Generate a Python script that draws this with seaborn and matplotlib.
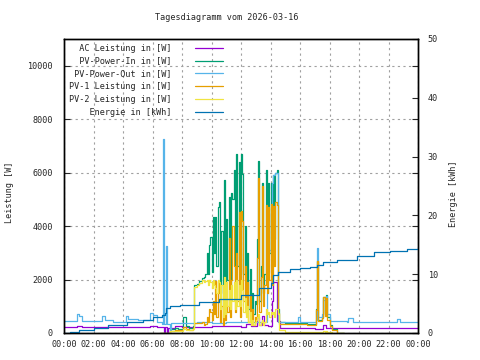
import matplotlib
matplotlib.use('Agg')
import matplotlib.pyplot as plt
import seaborn as sns

# -------------------- Data --------------------
ac_time = ["00:00", "00:52", "01:12", "04:12", "04:20", "05:50", "06:20", "06:45", "06:50", "07:00",
           "07:05", "07:30", "08:00", "10:00", "12:00", "12:20", "12:40", "13:05", "13:15", "13:25",
           "13:35", "13:50", "14:05", "14:10", "14:28", "14:40", "17:00", "17:35", "17:45", "24:00"]
ac_power = [210, 260, 210, 240, 210, 250, 210, 0, 210, 0,
            200, 250, 210, 250, 230, 350, 250, 600, 300, 650,
            300, 250, 1200, 1900, 450, 190, 150, 300, 180, 180]

out_time = ["00:00", "00:52", "01:00", "01:12", "02:35", "02:45", "03:20", "04:12", "04:20", "05:00",
            "05:50", "06:00", "06:18", "06:40", "06:43", "06:47", "06:53", "06:57", "07:10", "07:15",
            "08:00", "09:00", "10:00", "11:00", "12:00", "13:00", "13:45", "13:50", "13:55", "14:00",
            "14:05", "14:10", "14:20", "14:30", "15:50", "16:02", "17:05", "17:10", "17:15", "17:30",
            "17:35", "17:40", "17:45", "17:50", "18:00", "19:10", "19:15", "19:35", "22:35", "22:48",
            "24:00"]
pv_out = [460, 700, 620, 460, 630, 480, 420, 630, 520, 470,
          740, 670, 420, 330, 7270, 330, 3240, 330, 100, 370,
          380, 400, 380, 420, 400, 420, 1500, 2240, 3100, 4500,
          5600, 5900, 6000, 420, 600, 420, 500, 3170, 600, 700,
          1250, 800, 1400, 700, 450, 420, 560, 410, 520, 420,
          400]

pv_time = ["06:30", "07:12", "07:30", "07:45", "08:05", "08:15", "08:30", "08:45", "08:50", "09:00",
           "09:10", "09:20", "09:30", "09:35", "09:40", "09:45", "09:50", "09:55", "10:00", "10:05",
           "10:10", "10:15", "10:20", "10:25", "10:30", "10:35", "10:40", "10:45", "10:50", "10:55",
           "11:00", "11:05", "11:10", "11:15", "11:20", "11:25", "11:30", "11:35", "11:40", "11:45",
           "11:50", "11:55", "12:00", "12:05", "12:10", "12:15", "12:20", "12:25", "12:30", "12:35",
           "12:40", "12:45", "12:50", "12:55", "13:00", "13:05", "13:10", "13:15", "13:20", "13:25",
           "13:30", "13:35", "13:40", "13:45", "13:50", "13:55", "14:00", "14:05", "14:10", "14:15",
           "14:20", "14:25", "14:30", "14:35", "15:00", "15:30", "16:00", "16:30", "17:00", "17:05",
           "17:10", "17:15", "17:30", "17:35", "17:40", "17:45", "17:50", "18:00", "18:10", "18:30",
           "19:00"]
pv_in = [0, 150, 200, 150, 600, 250, 200, 250, 1790, 1850,
         1950, 2050, 2100, 2200, 2990, 2200, 3280, 3580, 2300, 4330,
         3000, 4330, 2500, 4700, 4920, 1500, 3800, 900, 5740, 1200,
         4250, 2000, 5070, 1600, 5220, 5000, 6080, 1800, 6710, 2500,
         6380, 1800, 6680, 5960, 2200, 4000, 1500, 3000, 900, 2400,
         800, 1500, 700, 1200, 1100, 3500, 6450, 1200, 2500, 5600,
         1500, 2200, 6080, 2500, 5600, 3000, 5630, 2800, 5900, 3500,
         6000, 6100, 900, 400, 380, 360, 380, 350, 340, 900,
         2700, 500, 600, 1340, 700, 1420, 600, 300, 150, 0,
         0]
pv1 = [0, 80, 120, 100, 220, 150, 120, 200, 370, 380,
       380, 400, 300, 350, 600, 400, 900, 800, 500, 1200,
       700, 1960, 600, 1960, 1500, 400, 1000, 300, 1800, 500,
       1300, 800, 3540, 600, 2000, 3990, 2500, 800, 3000, 1200,
       4510, 600, 4580, 4200, 1200, 2500, 700, 1900, 400, 1400,
       500, 900, 300, 600, 500, 2800, 5800, 800, 2100, 5500,
       1000, 1800, 4800, 1500, 4700, 2000, 4840, 1800, 4770, 2500,
       4900, 4800, 740, 340, 330, 320, 340, 300, 300, 850,
       2680, 450, 550, 1340, 650, 1300, 500, 250, 100, 0,
       0]
pv2 = [0, 60, 80, 60, 150, 100, 100, 150, 1720, 1780,
       1880, 2000, 1900, 1950, 2000, 1800, 2000, 1900, 1700, 2000,
       1800, 1700, 1500, 2000, 1900, 900, 1800, 600, 2100, 700,
       1900, 1000, 1600, 900, 1800, 1200, 1900, 900, 2000, 1000,
       1800, 1000, 2000, 1600, 800, 1300, 600, 1000, 400, 800,
       300, 500, 300, 400, 500, 600, 700, 300, 400, 500,
       300, 400, 900, 700, 800, 600, 800, 700, 800, 600,
       900, 900, 700, 100, 30, 30, 30, 20, 20, 50,
       50, 30, 40, 60, 40, 60, 30, 20, 10, 0,
       0]

energy_time = ["00:00", "00:25", "01:00", "02:00", "03:00", "04:15", "05:20", "06:00", "06:40", "06:50",
               "06:55", "07:10", "07:50", "09:10", "10:30", "12:00", "13:15", "14:00", "14:10", "14:30",
               "15:20", "16:00", "16:40", "17:10", "17:35", "18:30", "19:50", "21:00", "22:05", "23:15",
               "24:00"]
energy = [0, 0.2, 0.5, 0.9, 1.3, 1.8, 2.2, 2.8, 3.05, 3.4,
          4.25, 4.6, 4.8, 5.3, 5.8, 6.4, 7.6, 8.5, 9.9, 10.4,
          10.8, 11.1, 11.3, 11.6, 12.0, 12.4, 13.1, 13.7, 14.0, 14.3,
          14.7]

hour_ticks = list(range(0, 25, 2))
labels = ['AC Leistung in [W]', 'PV-Power-In in [W]', 'PV-Power-Out in [W]',
          'PV-1 Leistung in [W]', 'PV-2 Leistung in [W]', 'Energie in [kWh]']
colors = ['#9400d3', '#009e73', '#56b4e9', '#e69f00', '#f0e442', '#0072b2']


def to_hours(times):
    return [int(t[:2]) + int(t[3:]) / 60 for t in times]


sns.set_style('white')
plt.rcParams['font.family'] = ['DejaVu Sans Mono']
FS = 6.1

fig = plt.figure(figsize=(4.8, 3.6), dpi=100)
ax = fig.add_axes([64 / 480, 27 / 360, 354 / 480, 294 / 360])

power = [(ac_time, ac_power), (pv_time, pv_in), (out_time, pv_out), (pv_time, pv1), (pv_time, pv2)]
for (t, v), c in zip(power, colors[:5]):
    sns.lineplot(x=to_hours(t), y=v, ax=ax, color=c, lw=0.9, drawstyle='steps-post', legend=False)

ax2 = ax.twinx()
sns.lineplot(x=to_hours(energy_time), y=energy, ax=ax2, color=colors[5], lw=0.9,
             drawstyle='steps-post', legend=False)

ax.set_xlim(0, 24)
ax.set_ylim(0, 11000)
ax2.set_ylim(0, 50)
ax.set_xticks(hour_ticks)
ax.set_xticklabels([f'{h % 24:02d}:00' for h in hour_ticks])
ax.set_xticks(range(0, 25), minor=True)
ax.set_yticks(range(0, 10001, 2000))
ax2.set_yticks(range(0, 51, 10))
ax.set_xlabel('')
ax.set_ylabel('')
ax2.set_ylabel('')

ax.tick_params(axis='both', which='both', direction='in', labelsize=FS, length=4, width=0.8)
ax.tick_params(axis='x', which='minor', length=2)
ax.tick_params(axis='x', pad=5)
ax.tick_params(axis='y', pad=8, right=True, labelright=False)
ax2.tick_params(axis='y', direction='in', labelsize=FS, length=4, width=0.8, pad=7)

ax.grid(True, which='major', color='#a0a0a0', ls=(0, (2, 3)), lw=0.8)
ax.set_axisbelow(True)
for a in (ax, ax2):
    for s in a.spines.values():
        s.set_color('black')
        s.set_linewidth(1.0)

# legend: right-aligned labels via padding (monospace font)
handles = list(ax.get_lines()) + list(ax2.get_lines())
width = max(len(l) for l in labels)
ax2.legend(handles, [l.rjust(width) for l in labels], loc='upper left', bbox_to_anchor=(0, 1),
           frameon=False, markerfirst=False, handlelength=3.3, handletextpad=2.8,
           labelspacing=0.46, borderaxespad=0.15, prop={'family': 'DejaVu Sans Mono', 'size': FS})

fig.text(10 / 480, 1 - 192 / 360, 'Leistung [W]', rotation=90, ha='center', va='center', fontsize=FS)
fig.text(454 / 480, 1 - 194 / 360, 'Energie [kWh]', rotation=90, ha='center', va='center', fontsize=FS)
fig.text(227 / 480, 1 - 18 / 360, 'Tagesdiagramm vom 2026-03-16', ha='center', va='center', fontsize=FS)

fig.savefig('out.png', dpi=100)
